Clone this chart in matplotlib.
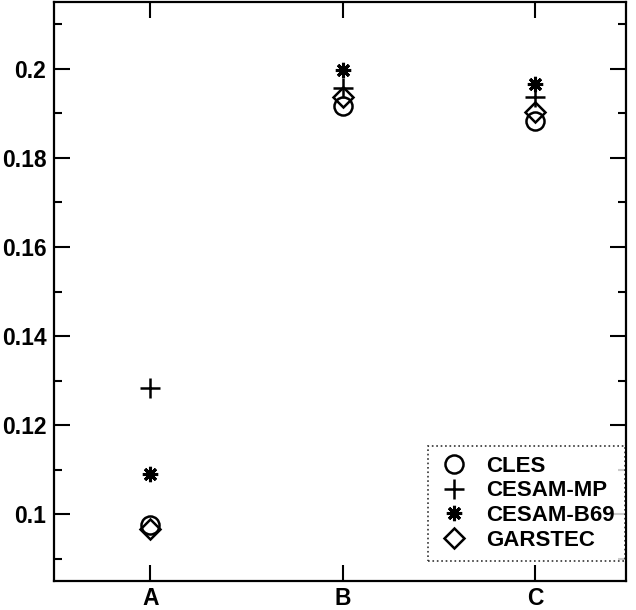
import matplotlib
matplotlib.use("Agg")
import matplotlib.pyplot as plt
from matplotlib.ticker import MultipleLocator

plt.rcParams['font.family'] = ['Liberation Sans', 'DejaVu Sans']
plt.rcParams['font.weight'] = 'bold'

categories = ["A", "B", "C"]
cles = [0.0976, 0.1916, 0.1882]
cesam_mp = [0.1283, 0.1957, 0.1937]
cesam_b69 = [0.1090, 0.1998, 0.1966]
garstec = [0.0966, 0.1937, 0.1904]

fig = plt.figure(figsize=(6.36, 6.10), dpi=100)
ax = fig.add_axes([54/636, 29/610, 572/636, 579/610])

x = list(range(len(categories)))
ax.plot(x, cles, linestyle='none', marker='o', markersize=13, markerfacecolor='none',
        markeredgecolor='black', markeredgewidth=1.8, label='CLES')
ax.plot(x, cesam_mp, linestyle='none', marker='+', markersize=14.5, color='black',
        markeredgewidth=1.8, label='CESAM-MP')
ax.plot(x, cesam_b69, linestyle='none', marker=(8, 2, 0), markersize=11, color='black',
        markeredgewidth=2.2, label='CESAM-B69')
ax.plot(x, garstec, linestyle='none', marker='D', markersize=10, markerfacecolor='none',
        markeredgecolor='black', markeredgewidth=1.8, label='GARSTEC')

ax.set_xlim(-0.5, 2.47)
ax.set_ylim(0.085, 0.215)
ax.set_xticks(x)
ax.set_xticklabels(categories)
ax.yaxis.set_minor_locator(MultipleLocator(0.01))
ax.set_yticks([0.1, 0.12, 0.14, 0.16, 0.18, 0.2])
ax.set_yticklabels(['0.1', '0.12', '0.14', '0.16', '0.18', '0.2'])

ax.tick_params(which='major', direction='in', length=11.5, width=1.5, labelsize=16.5,
               top=True, right=True, pad=5.5)
ax.tick_params(axis='x', which='major', pad=4)
ax.tick_params(which='minor', direction='in', length=6, width=1.5, top=False, right=True)
for lab in ax.get_xticklabels() + ax.get_yticklabels():
    lab.set_fontweight('bold')
for s in ax.spines.values():
    s.set_linewidth(1.6)

leg = ax.legend(loc='lower right', bbox_to_anchor=(0.9983, 0.0345), frameon=True,
                fancybox=False, prop={'weight': 'bold', 'size': 16}, borderpad=0.45,
                labelspacing=0.17, handletextpad=0.7, handlelength=1.5, borderaxespad=0)
leg.get_frame().set_edgecolor('black')
leg.get_frame().set_linestyle(':')
leg.get_frame().set_linewidth(1.2)

fig.savefig('out.png', dpi=100)
